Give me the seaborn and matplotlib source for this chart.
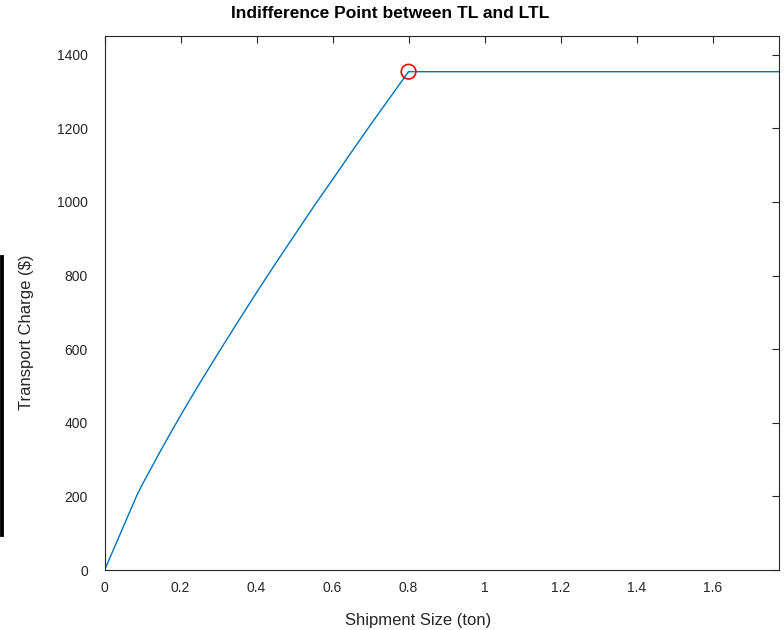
import matplotlib
matplotlib.use("Agg")
import matplotlib.pyplot as plt
from matplotlib.patches import Rectangle
import seaborn as sns
import pandas as pd

# Shipment size (ton) and the resulting transport charge ($)
shipment_ton = [0.0, 0.085, 0.10, 0.15, 0.20, 0.25, 0.30, 0.35, 0.40, 0.45,
                0.50, 0.55, 0.60, 0.65, 0.70, 0.75, 0.80, 1.775]
charge_usd = [0, 203, 234, 329, 420, 507, 591, 673, 754, 833,
              910, 987, 1061, 1136, 1210, 1282, 1354, 1354]

# Indifference point between TL and LTL
indiff_ton = [0.80]
indiff_usd = [1354]

x_ticks = [0, 0.2, 0.4, 0.6, 0.8, 1, 1.2, 1.4, 1.6]
x_tick_labels = ["0", "0.2", "0.4", "0.6", "0.8", "1", "1.2", "1.4", "1.6"]
y_ticks = [0, 200, 400, 600, 800, 1000, 1200, 1400]

sns.set_theme(style="white")
plt.rcParams["font.family"] = ["Liberation Sans", "DejaVu Sans"]

fig = plt.figure(figsize=(7.84, 6.30), dpi=100)
ax_left, ax_right, ax_top, ax_bottom = 104.6, 779.0, 36.0, 570.0
ax_w = ax_right - ax_left
ax_h = ax_bottom - ax_top
ax = fig.add_axes([ax_left / 784, 1 - ax_bottom / 630, ax_w / 784, ax_h / 630])

curve = pd.DataFrame({"size": shipment_ton, "charge": charge_usd})
point = pd.DataFrame({"size": indiff_ton, "charge": indiff_usd})

sns.lineplot(data=curve, x="size", y="charge", sort=False, estimator=None,
             color="#0072BD", linewidth=1.0, ax=ax)
sns.scatterplot(data=point, x="size", y="charge", marker="o", s=110,
                facecolor="none", edgecolor="#FF0000", linewidth=1.2, ax=ax, zorder=5)

ax.set_xlim(0, 1.775)
ax.set_ylim(0, 1451)
ax.set_xticks(x_ticks)
ax.set_xticklabels(x_tick_labels)
ax.set_yticks(y_ticks)

ax.tick_params(axis="both", which="both", direction="in", length=5, width=0.8,
               colors="#262626", labelsize=10, top=True, right=True,
               labeltop=False, labelright=False)
ax.tick_params(axis="x", pad=8)
ax.tick_params(axis="y", pad=12)
for s in ax.spines.values():
    s.set_color("#262626")
    s.set_linewidth(0.8)
    s.set_visible(True)

ax.set_xlabel("Shipment Size (ton)", fontsize=12, color="#262626")
ax.xaxis.set_label_coords((418 - ax_left) / ax_w, -(620 - ax_bottom) / ax_h)
ax.xaxis.label.set_va("center")
ax.set_ylabel("Transport Charge ($)", fontsize=12, color="#262626")
ax.yaxis.set_label_coords((27 - ax_left) / ax_w, (ax_bottom - 332) / ax_h)
ax.yaxis.label.set_va("center")

ax.text((390 - ax_left) / ax_w, (ax_bottom - 14) / ax_h,
        "Indifference Point between TL and LTL", transform=ax.transAxes,
        ha="center", va="center", fontsize=12.5, fontweight="bold", color="black")

# narrow black bar at the left edge of the figure
fig.add_artist(Rectangle((0, 1 - 536 / 630), 2.5 / 784, (536 - 255) / 630,
                         transform=fig.transFigure, facecolor="black",
                         edgecolor="black", linewidth=0.6))

fig.savefig("out.png", dpi=100)
